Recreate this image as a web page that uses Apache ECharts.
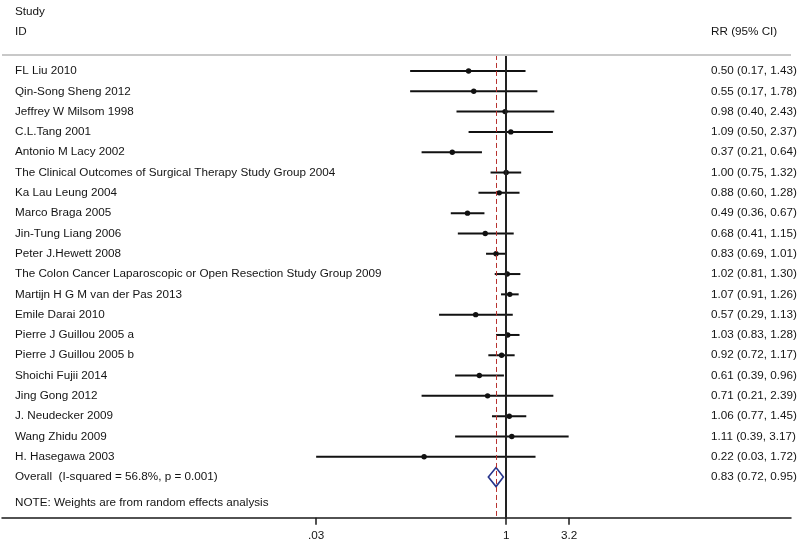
<!DOCTYPE html>
<html>
<head>
<meta charset="utf-8">
<script src="https://cdn.jsdelivr.net/npm/echarts@6/dist/echarts.min.js"></script>
<style>
html,body{margin:0;padding:0;background:#fff;}
#chart{width:800px;height:545px;}
</style>
</head>
<body>
<div id="chart"></div>
<script>
const studies = [
  'FL Liu 2010',
  'Qin-Song Sheng 2012',
  'Jeffrey W Milsom 1998',
  'C.L.Tang 2001',
  'Antonio M Lacy 2002',
  'The Clinical Outcomes of Surgical Therapy Study Group 2004',
  'Ka Lau Leung 2004',
  'Marco Braga 2005',
  'Jin-Tung Liang 2006',
  'Peter J.Hewett 2008',
  'The Colon Cancer Laparoscopic or Open Resection Study Group 2009',
  'Martijn H G M van der Pas 2013',
  'Emile Darai 2010',
  'Pierre J Guillou 2005 a',
  'Pierre J Guillou 2005 b',
  'Shoichi Fujii 2014',
  'Jing Gong 2012',
  'J. Neudecker 2009',
  'Wang Zhidu 2009',
  'H. Hasegawa 2003'
];
const rr    = [0.50, 0.55, 0.98, 1.09, 0.37, 1.00, 0.88, 0.49, 0.68, 0.83, 1.02, 1.07, 0.57, 1.03, 0.92, 0.61, 0.71, 1.06, 1.11, 0.22];
const lower = [0.17, 0.17, 0.40, 0.50, 0.21, 0.75, 0.60, 0.36, 0.41, 0.69, 0.81, 0.91, 0.29, 0.83, 0.72, 0.39, 0.21, 0.77, 0.39, 0.03];
const upper = [1.43, 1.78, 2.43, 2.37, 0.64, 1.32, 1.28, 0.67, 1.15, 1.01, 1.30, 1.26, 1.13, 1.28, 1.17, 0.96, 2.39, 1.45, 3.17, 1.72];
const overallLabel = 'Overall  (I-squared = 56.8%, p = 0.001)';
const overallRR = 0.83, overallLower = 0.72, overallUpper = 0.95;
const tickValues = [0.03, 1, 3.2];
const tickLabels = ['.03', '1', '3.2'];
const noteText = 'NOTE: Weights are from random effects analysis';
const headerStudy = 'Study', headerID = 'ID', headerRR = 'RR (95% CI)';

const FONT = '11.7px "Liberation Sans", Arial, sans-serif';
const TXT = '#141414';
const fmt = v => v.toFixed(2);
const ciText = (e, l, h) => fmt(e) + ' (' + fmt(l) + ', ' + fmt(h) + ')';

const studyData = studies.map((s, i) => [rr[i], i, lower[i], upper[i], s]);
const overallIndex = studies.length;

const chart = echarts.init(document.getElementById('chart'), null, {renderer: 'canvas'});
chart.setOption({
  animation: false,
  backgroundColor: '#fff',
  grid: {left: 2, right: 9, top: 50.7, bottom: 27.3, containLabel: false},
  xAxis: {
    type: 'log', logBase: 10, min: 9.1e-5, max: 192,
    axisLine: {show: true, onZero: false, lineStyle: {color: '#1a1a1a', width: 1.5}},
    axisTick: {show: true, customValues: tickValues, length: 7, lineStyle: {color: '#1a1a1a', width: 1.5}},
    axisLabel: {show: true, customValues: tickValues, margin: 12, color: TXT, fontSize: 11.7,
      fontFamily: '"Liberation Sans", Arial, sans-serif',
      formatter: v => { const k = tickValues.findIndex(t => Math.abs(t - v) < 1e-9); return k >= 0 ? tickLabels[k] : ''; }},
    splitLine: {show: false}, minorTick: {show: false}, minorSplitLine: {show: false}
  },
  yAxis: {type: 'value', inverse: true, min: -1, max: 22, show: false},
  graphic: [
    {type: 'text', x: 15, y: 12, style: {text: headerStudy, font: FONT, fill: TXT, verticalAlign: 'middle'}},
    {type: 'text', x: 15, y: 32, style: {text: headerID, font: FONT, fill: TXT, verticalAlign: 'middle'}},
    {type: 'text', x: 711, y: 32, style: {text: headerRR, font: FONT, fill: TXT, verticalAlign: 'middle'}},
    {type: 'text', x: 15, y: 503, style: {text: noteText, font: FONT, fill: TXT, verticalAlign: 'middle'}}
  ],
  series: [
    {
      type: 'custom',
      name: 'studies',
      clip: false,
      data: studyData,
      encode: {x: [0, 2, 3], y: 1},
      renderItem: function (params, api) {
        const i = api.value(1);
        const p = api.coord([api.value(0), i]);
        const l = api.coord([api.value(2), i]);
        const h = api.coord([api.value(3), i]);
        const cs = params.coordSys;
        const d = studyData[params.dataIndex];
        return {type: 'group', children: [
          {type: 'line', shape: {x1: l[0], y1: p[1], x2: h[0], y2: p[1]}, style: {stroke: '#111', lineWidth: 2}},
          {type: 'circle', shape: {cx: p[0], cy: p[1], r: 2.7}, style: {fill: '#111'}},
          {type: 'text', x: cs.x + 13, y: p[1], style: {text: d[4], font: FONT, fill: TXT, align: 'left', verticalAlign: 'middle'}},
          {type: 'text', x: cs.x + cs.width - 80, y: p[1], style: {text: ciText(d[0], d[2], d[3]), font: FONT, fill: TXT, align: 'left', verticalAlign: 'middle'}}
        ]};
      },
      markLine: {
        silent: true, symbol: 'none', label: {show: false},
        data: [
          [{coord: [1, -0.79], lineStyle: {color: '#222', width: 2, type: 'solid'}}, {coord: [1, 22]}],
          [{coord: [overallRR, -0.79], lineStyle: {color: '#b8322f', width: 1, type: [5, 3]}}, {coord: [overallRR, 22]}],
          {yAxis: -0.79, lineStyle: {color: '#c8c8c8', width: 2, type: 'solid'}}
        ]
      },
      z: 3
    },
    {
      type: 'custom',
      name: 'overall',
      clip: false,
      data: [[overallRR, overallIndex, overallLower, overallUpper]],
      encode: {x: [0, 2, 3], y: 1},
      renderItem: function (params, api) {
        const i = api.value(1);
        const p = api.coord([api.value(0), i]);
        const l = api.coord([api.value(2), i]);
        const h = api.coord([api.value(3), i]);
        const cs = params.coordSys;
        const half = 9.5;
        return {type: 'group', children: [
          {type: 'polygon', shape: {points: [[l[0], p[1]], [p[0], p[1] - half], [h[0], p[1]], [p[0], p[1] + half]]},
            style: {fill: 'none', stroke: '#27348b', lineWidth: 1.6}},
          {type: 'text', x: cs.x + 13, y: p[1], style: {text: overallLabel, font: FONT, fill: TXT, align: 'left', verticalAlign: 'middle'}},
          {type: 'text', x: cs.x + cs.width - 80, y: p[1], style: {text: ciText(api.value(0), api.value(2), api.value(3)), font: FONT, fill: TXT, align: 'left', verticalAlign: 'middle'}}
        ]};
      },
      z: 4
    }
  ]
});
</script>
</body>
</html>
